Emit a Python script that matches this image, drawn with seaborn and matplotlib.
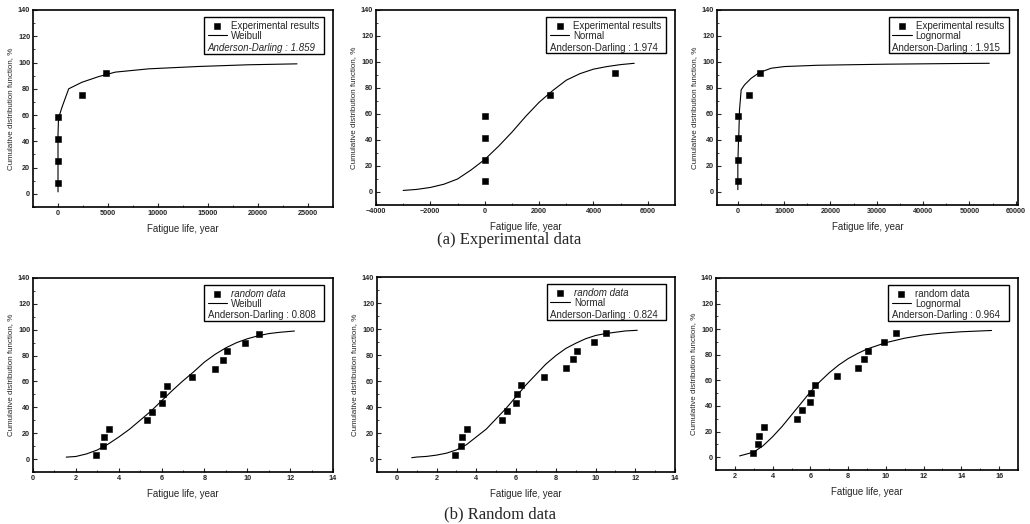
import numpy as np
import pandas as pd
import matplotlib.pyplot as plt
import seaborn as sns
from matplotlib.patches import Rectangle
from matplotlib.ticker import AutoMinorLocator

sns.set_style("ticks")
plt.rcParams["font.family"] = ["Liberation Sans", "DejaVu Sans"]

# Experimental data (6 specimens), median-rank CDF in %
exp_life = [3, 8, 14, 22, 2400, 4800]
exp_cdf = [8.3, 25.0, 41.7, 58.3, 75.0, 91.7]

# Random data (15 samples)
rnd_life = [2.95, 3.25, 3.3, 3.55, 5.3, 5.55, 6.0, 6.05, 6.25, 7.4, 8.5, 8.85, 9.05, 9.9, 10.55]
rnd_cdf = [3.3, 10.0, 16.7, 23.3, 30.0, 36.7, 43.3, 50.0, 56.7, 63.3, 70.0, 76.7, 83.3, 90.0, 96.7]

# fitted curves
weib_exp_x = [0, 0, 0, 40, 150, 400, 1070, 2400, 4070, 5730, 9070, 14070, 19070, 23900]
weib_exp_y = [1.5, 20, 45, 55, 60, 66, 80, 85, 89.3, 92.7, 95.2, 97.0, 98.3, 99.0]

norm_exp_x = [-3000, -2500, -2000, -1500, -1000, -500, 0, 500, 1000, 1500, 2000, 2500,
              3000, 3500, 4000, 4500, 5000, 5500]
norm_exp_y = [1.2, 2, 3.5, 6, 10, 17, 25, 35, 46, 58, 69, 78, 86, 91, 94.5, 96.5, 98, 99]

logn_exp_x = [0, 0, 100, 216, 360, 720, 1440, 2880, 4680, 7190, 10070, 17270, 31650, 46040, 54300]
logn_exp_y = [1.8, 20, 35, 45, 63, 78.6, 82.4, 87.5, 91.9, 95.2, 96.5, 97.5, 98.3, 98.8, 99.0]

weib_rnd_x = [1.55, 2, 2.5, 3, 3.5, 4, 4.5, 5, 5.5, 6, 6.5, 7, 7.5, 8, 8.5, 9, 9.5, 10,
              10.5, 11, 11.5, 12.2]
weib_rnd_y = [1.5, 2, 4, 7, 11.5, 17, 23, 30, 37, 45, 53, 60.5, 67.5, 75, 81, 86, 90, 93,
              95.3, 97, 98, 99]

norm_rnd_x = [0.75, 1, 1.5, 2, 2.5, 3, 3.5, 4, 4.5, 5, 5.5, 6, 6.5, 7, 7.5, 8, 8.5, 9, 9.5,
              10, 10.5, 11, 11.5, 12.1]
norm_rnd_y = [1, 1.5, 2, 3, 4.5, 7, 11, 17, 23, 31, 39, 48, 57, 65, 73, 79.5, 85, 89, 92.5,
              95, 96.5, 97.5, 98.5, 99]

logn_rnd_x = [2.25, 2.5, 3, 3.5, 4, 4.5, 5, 5.5, 6, 6.5, 7, 7.5, 8, 8.5, 9, 10, 11, 12, 13,
              14, 15.6]
logn_rnd_y = [1, 2, 4, 9, 16, 24, 33, 42, 51, 59, 66, 72, 77, 81, 84.5, 89.5, 93, 95.5, 97,
              98, 99]

panels = [
    # (x pts, y pts, fit x, fit y, pt label, fit label, AD, xlim, xticks, italic pts, italic AD)
    (exp_life, exp_cdf, weib_exp_x, weib_exp_y, "Experimental results", "Weibull", "1.859",
     (-2500, 27500), np.arange(0, 25001, 5000), False, True),
    (exp_life, exp_cdf, norm_exp_x, norm_exp_y, "Experimental results", "Normal", "1.974",
     (-4000, 7000), np.arange(-4000, 6001, 2000), False, False),
    (exp_life, exp_cdf, logn_exp_x, logn_exp_y, "Experimental results", "Lognormal", "1.915",
     (-4500, 60500), np.arange(0, 60001, 10000), False, False),
    (rnd_life, rnd_cdf, weib_rnd_x, weib_rnd_y, "random data", "Weibull", "0.808",
     (0, 14), np.arange(0, 15, 2), True, False),
    (rnd_life, rnd_cdf, norm_rnd_x, norm_rnd_y, "random data", "Normal", "0.824",
     (-1, 14), np.arange(0, 15, 2), True, False),
    (rnd_life, rnd_cdf, logn_rnd_x, logn_rnd_y, "random data", "Lognormal", "0.964",
     (1, 17), np.arange(2, 17, 2), False, False),
]

# axes boxes in pixels: left, top, right, bottom
boxes = [(33, 10, 333, 207), (376, 10, 675, 205), (717, 10, 1018, 205),
         (33, 278, 333, 472), (377, 277, 675, 472), (716, 278, 1018, 470)]

W, H = 1030, 524
fig = plt.figure(figsize=(W / 100, H / 100), dpi=100)

for (xp, yp, xf, yf, plab, flab, ad, xlim, xticks, it_pts, it_ad), (l, t, r, b) in zip(panels, boxes):
    ax = fig.add_axes([l / W, 1 - b / H, (r - l) / W, (b - t) / H])
    pts = pd.DataFrame({"x": xp, "y": yp})
    fit = pd.DataFrame({"x": xf, "y": yf})
    sns.scatterplot(data=pts, x="x", y="y", ax=ax, marker="s", s=13, color="black",
                    edgecolor="black", linewidth=0.4, label=plab, zorder=3)
    sns.lineplot(data=fit, x="x", y="y", ax=ax, color="black", linewidth=0.8,
                 estimator=None, sort=False, label=flab, zorder=2)

    ax.set_xlim(*xlim)
    ax.set_ylim(-10, 140)
    ax.set_xticks(xticks)
    ax.set_yticks(np.arange(0, 141, 20))
    ax.xaxis.set_minor_locator(AutoMinorLocator(2))
    ax.yaxis.set_minor_locator(AutoMinorLocator(2))
    ax.tick_params(which="major", direction="in", length=3, width=0.8, labelsize=5.2, pad=2)
    ax.tick_params(which="minor", direction="in", length=1.5, width=0.6)
    for lab in ax.get_xticklabels() + ax.get_yticklabels():
        lab.set_fontweight("bold")
    for sp in ax.spines.values():
        sp.set_linewidth(1.2)
        sp.set_color("black")

    ax.set_xlabel("Fatigue life, year", fontsize=7, labelpad=5)
    ax.set_ylabel("Cumulative distribution function, %", fontsize=5.8, labelpad=3)

    # legend box
    x0, x1, y0, y1 = 0.57, 0.97, 0.777, 0.963
    ax.add_patch(Rectangle((x0, y0), x1 - x0, y1 - y0, transform=ax.transAxes,
                           fill=False, edgecolor="black", linewidth=1.0, zorder=5))
    leg = ax.legend(loc="upper left", bbox_to_anchor=(x0 + 0.012, y1 - 0.018), frameon=False,
                    fontsize=7, handlelength=2.0, handletextpad=0.4, borderpad=0,
                    borderaxespad=0, labelspacing=0.0)
    if it_pts:
        leg.get_texts()[0].set_style("italic")
    ax.text(x0 + 0.012, y0 + 0.03, "Anderson-Darling : " + ad, transform=ax.transAxes,
            fontsize=7, va="center", ha="left", style="italic" if it_ad else "normal")

fig.text(509 / W, 1 - 240 / H, "(a) Experimental data", ha="center", va="center",
         family="Liberation Serif", fontsize=12)
fig.text(500 / W, 1 - 514 / H, "(b) Random data", ha="center", va="center",
         family="Liberation Serif", fontsize=12)

fig.savefig("out.png", dpi=100)
